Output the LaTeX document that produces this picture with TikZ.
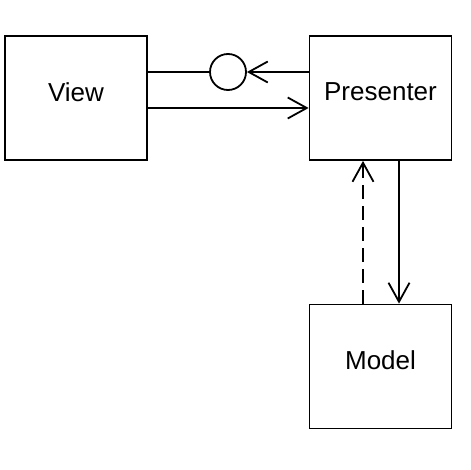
\documentclass[tikz,border=0pt]{standalone}
\usepackage{fontspec}
\setmainfont{Liberation Sans}
\usetikzlibrary{arrows.meta}
\tikzset{
  box/.style={draw, line width=1.8pt, minimum width=142pt, minimum height=124pt, inner sep=0pt,
    font=\fontsize{26pt}{30pt}\selectfont},
  conn/.style={line width=1.8pt},
  vtip/.style={-{Straight Barb[length=19pt,width=21pt,line width=1.8pt]}},
}
\begin{document}
\begin{tikzpicture}[x=1pt,y=-1pt]
\useasboundingbox (0,0) rectangle (470,470);
\node[box] (view) at (76,98) {\raisebox{12pt}{View}};
\node[box] (pres) at (380.5,98) {\raisebox{12pt}{Presenter}};
\node[box] (model) at (380.5,366.5) {\raisebox{12pt}{Model}};
\node[draw, circle, line width=1.8pt, minimum size=36pt, inner sep=0pt] (circ) at (228,72) {};
% upper: interface lollipop
\draw[conn] (view.east |- circ.west) -- (circ.west);
\draw[conn, vtip] (pres.west |- circ.east) -- (circ.east);
% lower: view to presenter
\coordinate (vl) at (147,108);
\draw[conn, vtip] (view.east |- vl) -- (pres.west |- vl);
% presenter to model (solid)
\coordinate (ps) at (399,0);
\draw[conn, vtip] (pres.south -| ps) -- (model.north -| ps);
% model to presenter (dashed)
\coordinate (md) at (363,0);
\draw[conn, vtip, dash pattern=on 14pt off 7pt] (model.north -| md) -- (pres.south -| md);
\end{tikzpicture}
\end{document}
